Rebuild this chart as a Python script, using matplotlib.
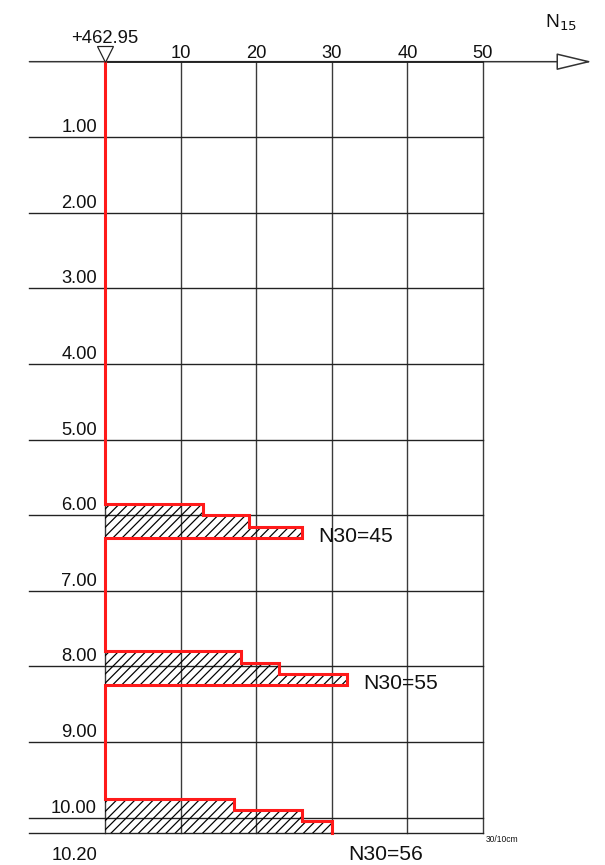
import matplotlib
matplotlib.use("Agg")
import matplotlib.pyplot as plt
from matplotlib.patches import Polygon

plt.rcParams['font.family'] = ['Liberation Sans', 'DejaVu Sans']
plt.rcParams['hatch.linewidth'] = 0.8
plt.rcParams['hatch.color'] = 'black'

# ---- data ----
elevation_label = "+462.95"
n_ticks = [10, 20, 30, 40, 50]
depth_lines = [1.0, 2.0, 3.0, 4.0, 5.0, 6.0, 7.0, 8.0, 9.0, 10.0]
depth_labels = ["1.00", "2.00", "3.00", "4.00", "5.00", "6.00", "7.00", "8.00", "9.00", "10.00"]
final_depth = 10.20
final_label = "10.20"

block1_depths = [5.85, 6.00, 6.15, 6.30]
block1_n = [13, 19, 26]
block2_depths = [7.80, 7.95, 8.10, 8.25]
block2_n = [18, 23, 32]
block3_depths = [9.75, 9.90, 10.05, 10.20]
block3_n = [17, 26, 30]
n30_values = [45, 55, 56]
blocks = [(block1_depths, block1_n), (block2_depths, block2_n), (block3_depths, block3_n)]

# ---- figure ----
DPI = 110
fig = plt.figure(figsize=(605 / DPI, 865 / DPI), dpi=DPI)
ax = fig.add_axes([0, 0, 1, 1])
ax.set_xlim(-13.89, 66.14)
ax.set_ylim(10.626, -0.816)
ax.axis('off')

grid_c = '#3a3a3a'
# vertical grid lines
for x in [0] + n_ticks:
    ax.plot([x, x], [0, final_depth], color=grid_c, lw=0.9, zorder=1)
# horizontal lines
for d in depth_lines + [final_depth]:
    ax.plot([-10, 50], [d, d], color='#222222', lw=0.9, zorder=1)

# top axis with open arrow
ax.annotate('', xy=(64.4, 0), xytext=(-10, 0),
            arrowprops=dict(arrowstyle='-|>,head_length=20.5,head_width=4.9',
                            mutation_scale=1, fc='white', ec='#333333', lw=1.0,
                            shrinkA=0, shrinkB=0), zorder=3)
ax.plot([0, 50], [0, 0], color='#222222', lw=1.2, zorder=3)

# hatched blocks
red_x = [0]
red_y = [0]
for i, (ds, ns) in enumerate(blocks):
    xs = [0]
    ys = [ds[0]]
    for k in range(3):
        xs += [ns[k], ns[k]]
        ys += [ds[k], ds[k + 1]]
    poly_x = xs + [0]
    poly_y = ys + [ds[3]]
    ax.add_patch(Polygon(list(zip(poly_x, poly_y)), closed=True, facecolor='none',
                         edgecolor='black', lw=0, hatch='////', zorder=2))
    red_x += xs
    red_y += ys
    if i < len(blocks) - 1:
        red_x += [0]
        red_y += [ds[3]]
    # N30 label
    ax.text(max(ns) + 2.2, ds[3] + 0.05 if i < 2 else 10.56,
            f"N30={n30_values[i]}", fontsize=13.8, ha='left', va='baseline',
            color='#111111', zorder=5)

ax.plot(red_x, red_y, color='#ff1a1a', lw=2.0, solid_joinstyle='miter', zorder=4)

# depth labels
for d, lab in zip(depth_lines, depth_labels):
    ax.text(-1.06, d - 0.066, lab, fontsize=12, ha='right', va='baseline', color='#111111')
ax.text(-1.06, 10.56, final_label, fontsize=12, ha='right', va='baseline', color='#111111')

# N tick labels
for t in n_ticks:
    ax.text(t, -0.049, str(t), fontsize=12, ha='center', va='baseline', color='#111111')

# elevation marker
ax.plot([0], [-0.098], marker='v', markersize=10.2, mfc='white', mec='#222222', mew=0.8, zorder=5)
ax.text(0, -0.251, elevation_label, fontsize=12.1, ha='center', va='baseline', color='#111111')

# axis title N15
ax.text(58.2, -0.446, r'N$_{15}$', fontsize=12.5, ha='left', va='baseline', color='#111111')

# scale note
ax.text(50.4, 10.317, "30/10cm", fontsize=5.6, ha='left', va='baseline', color='#111111')

fig.savefig('out.png', dpi=DPI)
